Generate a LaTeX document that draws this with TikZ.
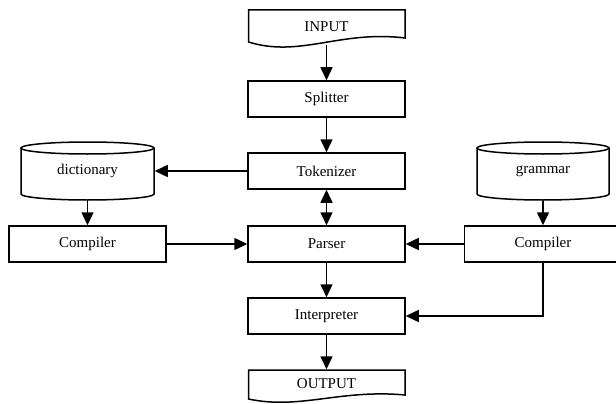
\documentclass[tikz,border=0pt]{standalone}
\usepackage{fontspec}
\setmainfont{Liberation Serif}
\usetikzlibrary{arrows.meta}
\begin{document}
\begin{tikzpicture}[x=1pt,y=-1pt,
  font=\fontsize{15}{18}\selectfont,
  line width=1.5pt,
  box/.style={draw, minimum width=157pt, minimum height=36pt, inner sep=0pt},
  ghost/.style={inner sep=0pt},
  arr/.style={-{Triangle[length=13pt,width=12pt]}},
  dbl/.style={{Triangle[length=13pt,width=12pt]}-{Triangle[length=13pt,width=12pt]}}]
\clip (0,0) rectangle (616,404);
\fill[white] (0,0) rectangle (616,404);

% INPUT document shape
\node[ghost, minimum width=157pt, minimum height=34pt] (in) at (326.5,27) {INPUT};
\draw (248.5,10) -- (405,10) -- (405,38) .. controls (340,30) and (300,58) .. (248.5,42) -- cycle;

\node[box] (split) at (326.5,99) {Splitter};
\node[box] (tok) at (326.5,171) {Tokenizer};
\node[box] (pars) at (326.5,244) {Parser};
\node[box] (interp) at (326.5,316) {Interpreter};

% OUTPUT document shape
\node[ghost, minimum width=157pt, minimum height=28pt] (out) at (326.5,384) {OUTPUT};
\draw (248.5,370) -- (405,370) -- (405,395) .. controls (340,389) and (300,410) .. (248.5,399) -- cycle;

% dictionary cylinder
\node[ghost, minimum width=133pt, minimum height=58pt] (dict) at (87.5,171) {dictionary};
\draw (21,148) -- (21,194) arc[start angle=180, end angle=360, x radius=66.5pt, y radius=6pt] -- (154,148);
\draw (87.5,148) ellipse [x radius=66.5pt, y radius=6pt];

% grammar cylinder
\node[ghost, minimum width=132pt, minimum height=58pt] (gram) at (543,171) {grammar};
\draw (477,148) -- (477,194) arc[start angle=180, end angle=360, x radius=66pt, y radius=6pt] -- (609,148);
\draw (543,148) ellipse [x radius=66pt, y radius=6pt];

\node[box] (lcomp) at (87.5,244) {Compiler};
\node[box] (rcomp) at (543,244) {Compiler};

\draw[arr] (in) -- (split);
\draw[arr] (split) -- (tok);
\draw[arr] (tok) -- (dict);
\draw[dbl] (tok) -- (pars);
\draw[arr] (dict) -- (lcomp);
\draw[arr] (gram) -- (rcomp);
\draw[arr] (lcomp) -- (pars);
\draw[arr] (rcomp) -- (pars);
\draw[arr] (pars) -- (interp);
\draw[arr] (rcomp.south) |- (interp.east);
\draw[arr] (interp) -- (out);
\end{tikzpicture}
\end{document}
